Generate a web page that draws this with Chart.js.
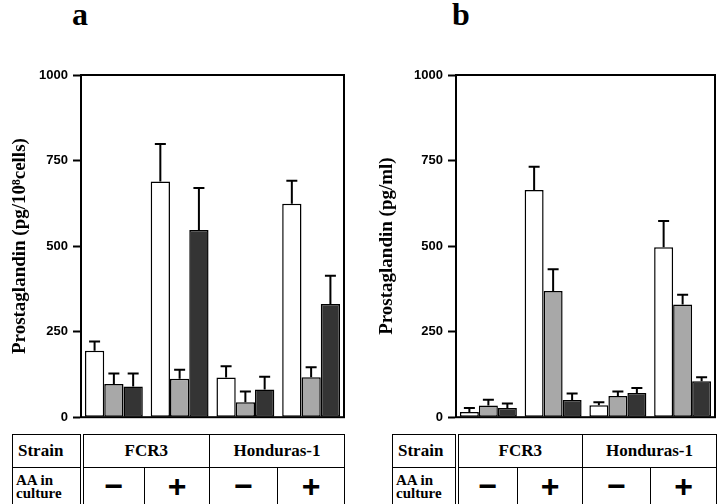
<!DOCTYPE html>
<html>
<head>
<meta charset="utf-8">
<script src="https://cdn.jsdelivr.net/npm/chart.js@4.4.1/dist/chart.umd.min.js"></script>
<style>
body{margin:0;background:#fff;}
#page{position:relative;width:720px;height:504px;overflow:hidden;background:#fff;}
.tag{position:absolute;top:-4px;font:bold 32px "Liberation Serif";color:#000;}
.box{position:absolute;top:0;}
table{position:absolute;top:434px;border-collapse:collapse;table-layout:fixed;font-family:"Liberation Serif";color:#000;}
td{border:1.5px solid #000;text-align:center;padding:0;height:32px;font-weight:bold;font-size:17px;}
td.head{border-right:4px double #000;text-align:left;padding-left:5px;}
td.aa{font-size:15px;line-height:13px;padding-left:3px;}
td.sign{font:bold 32px "Liberation Sans";}
</style>
</head>
<body>
<div id="page">
  <div class="tag" style="left:72px">a</div>
  <div class="tag" style="left:452px">b</div>
  <div class="box" style="left:0px"><canvas id="chartA" width="360" height="430"></canvas></div>
  <div class="box" style="left:360px"><canvas id="chartB" width="360" height="430"></canvas></div>
  <table id="tableA" style="left:12px;width:332px"></table>
  <table id="tableB" style="left:392px;width:324px"></table>
</div>
<script>
// groups along the x axis
const groups = ['FCR3 −', 'FCR3 +', 'Honduras-1 −', 'Honduras-1 +'];
const strains = ['FCR3', 'Honduras-1'];
const aaSigns = ['−', '+', '−', '+'];
const yTicks = [0, 250, 500, 750, 1000];

// panel a: pg / 10^8 cells
const cellsWhite = [194, 689, 116, 624];
const cellsGray = [97, 112, 44, 117];
const cellsDark = [90, 547, 81, 331];
const cellsWhiteErr = [27, 109, 33, 67];
const cellsGrayErr = [31, 27, 31, 29];
const cellsDarkErr = [38, 123, 37, 82];

// panel b: pg / ml
const mlWhite = [15, 664, 35, 497];
const mlGray = [34, 369, 62, 329];
const mlDark = [27, 50, 71, 105];
const mlWhiteErr = [12, 68, 9, 76];
const mlGrayErr = [17, 63, 13, 29];
const mlDarkErr = [13, 19, 14, 12];

const errorBars = {
  id: 'errorBars',
  afterDatasetsDraw(chart) {
    const ctx = chart.ctx, y = chart.scales.y;
    ctx.save();
    ctx.strokeStyle = '#000';
    ctx.lineWidth = 2;
    chart.data.datasets.forEach((ds, i) => {
      chart.getDatasetMeta(i).data.forEach((bar, j) => {
        const top = y.getPixelForValue(ds.data[j] + ds.errors[j]);
        ctx.beginPath();
        ctx.moveTo(bar.x, bar.y);
        ctx.lineTo(bar.x, top);
        ctx.moveTo(bar.x - 5.5, top);
        ctx.lineTo(bar.x + 5.5, top);
        ctx.stroke();
      });
    });
    ctx.restore();
  }
};

const frame = {
  id: 'frame',
  afterDraw(chart) {
    const a = chart.chartArea, ctx = chart.ctx;
    ctx.save();
    ctx.strokeStyle = '#000';
    ctx.lineWidth = 2;
    ctx.strokeRect(a.left, a.top, a.right - a.left, a.bottom - a.top);
    ctx.restore();
  }
};

function makeChart(id, title, white, gray, dark, wErr, gErr, dErr, axisWidth, titlePad, rightPad) {
  const bar = (data, errors, color) => ({
    data, errors,
    backgroundColor: color,
    borderColor: '#000',
    borderWidth: 1.5,
    borderSkipped: false,
    inflateAmount: 0
  });
  return new Chart(document.getElementById(id), {
    type: 'bar',
    data: {
      labels: groups,
      datasets: [
        bar(white, wErr, '#ffffff'),
        bar(gray, gErr, '#a8a8a8'),
        bar(dark, dErr, '#343434')
      ]
    },
    options: {
      responsive: false,
      animation: false,
      devicePixelRatio: 1,
      datasets: { bar: { categoryPercentage: 0.88, barPercentage: 1 } },
      layout: { padding: { top: 75, right: rightPad, bottom: 10, left: 0 } },
      plugins: { legend: { display: false }, tooltip: { enabled: false } },
      scales: {
        x: { display: false },
        y: {
          min: 0, max: 1000,
          afterBuildTicks: s => { s.ticks = yTicks.map(v => ({ value: v })); },
          afterFit: s => { s.width = axisWidth; },
          border: { display: true, color: '#000', width: 2 },
          grid: { drawOnChartArea: false, tickLength: 8, tickWidth: 2, tickColor: '#000' },
          ticks: {
            color: '#000', padding: 5,
            callback: v => String(v),
            font: { family: 'Liberation Sans', size: 13, weight: 'bold' }
          },
          title: {
            display: true, text: title, color: '#000',
            padding: { top: titlePad, bottom: 0 },
            font: { family: 'Liberation Serif', size: 19, weight: 'bold' }
          }
        }
      }
    },
    plugins: [errorBars, frame]
  });
}

makeChart('chartA', 'Prostaglandin (pg/10⁸cells)', cellsWhite, cellsGray, cellsDark,
  cellsWhiteErr, cellsGrayErr, cellsDarkErr, 81, 9, 16);
makeChart('chartB', 'Prostaglandin (pg/ml)', mlWhite, mlGray, mlDark,
  mlWhiteErr, mlGrayErr, mlDarkErr, 96, 16, 5);

function makeTable(id, widths) {
  const t = document.getElementById(id);
  let html = '<colgroup>' + widths.map(w => '<col style="width:' + w + 'px">').join('') + '</colgroup>';
  html += '<tr><td class="head">Strain</td>' +
    strains.map(s => '<td colspan="2">' + s + '</td>').join('') + '</tr>';
  html += '<tr><td class="head aa">AA in<br>culture</td>' +
    aaSigns.map(s => '<td class="sign">' + s + '</td>').join('') + '</tr>';
  t.innerHTML = html;
}
makeTable('tableA', [69, 63, 65, 68, 67]);
makeTable('tableB', [64, 61, 65, 68, 66]);
</script>
</body>
</html>
